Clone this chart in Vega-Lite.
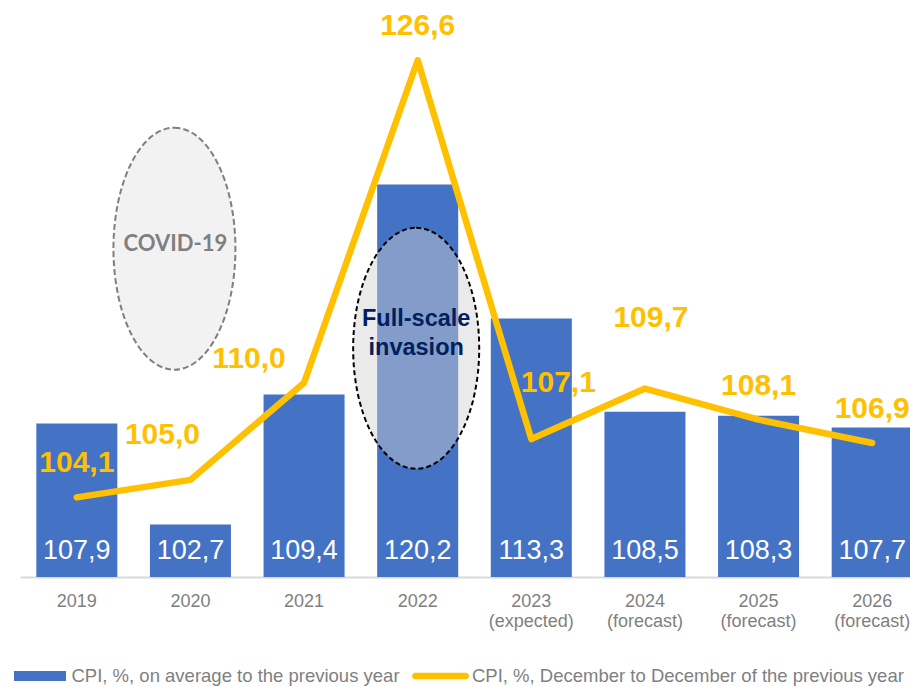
{
  "$schema": "https://vega.github.io/schema/vega-lite/v6.json",
  "width": 890,
  "height": 577,
  "autosize": {"type": "none"},
  "padding": {"left": 20, "top": 0, "right": 0, "bottom": 110},
  "background": "white",
  "config": {
    "view": {"stroke": null},
    "font": "Liberation Sans",
    "locale": {"number": {"decimal": ",", "thousands": " ", "grouping": [3], "currency": ["", ""]}}
  },
  "data": {
    "values": [
      {"year": "2019", "avg": 107.9, "dec": 104.1},
      {"year": "2020", "avg": 102.7, "dec": 105.0},
      {"year": "2021", "avg": 109.4, "dec": 110.0},
      {"year": "2022", "avg": 120.2, "dec": 126.6},
      {"year": "2023 (expected)", "avg": 113.3, "dec": 107.1},
      {"year": "2024 (forecast)", "avg": 108.5, "dec": 109.7},
      {"year": "2025 (forecast)", "avg": 108.3, "dec": 108.1},
      {"year": "2026 (forecast)", "avg": 107.7, "dec": 106.9}
    ]
  },
  "layer": [
    {
      "mark": {"type": "bar"},
      "encoding": {
        "x": {
          "field": "year", "type": "nominal", "sort": null,
          "scale": {
            "domain": ["2019", "2020", "2021", "2022", "2023 (expected)", "2024 (forecast)", "2025 (forecast)", "2026 (forecast)"],
            "range": [0, 909], "paddingInner": 0.287, "paddingOuter": 0.1435
          },
          "axis": {
            "title": null, "labelExpr": "split(datum.label, ' ')", "labelFontSize": 18,
            "labelColor": "#7F7F7F", "labelFont": "Liberation Sans", "labelBaseline": "alphabetic",
            "labelPadding": 29, "labelLineHeight": 20, "ticks": false, "tickSize": 0,
            "domainColor": "#D9D9D9", "domainWidth": 2, "labelAngle": 0, "grid": false
          }
        },
        "y": {
          "field": "avg", "type": "quantitative",
          "scale": {"domain": [100, 129.7], "nice": false, "zero": false},
          "axis": null
        },
        "y2": {"datum": 100},
        "color": {
          "datum": "CPI, %, on average to the previous year",
          "scale": {
            "domain": ["CPI, %, on average to the previous year", "CPI, %, December to December of the previous year"],
            "range": ["#4472C4", "#FFC000"]
          },
          "legend": {
            "orient": "none", "legendX": -8.5, "legendY": 647.5, "direction": "horizontal",
            "title": null, "labelFontSize": 18.5, "labelColor": "#7F7F7F", "labelFont": "Liberation Sans",
            "symbolSize": 3249, "labelOffset": 3, "columnPadding": 10.5, "padding": 0, "labelLimit": 600,
            "encode": {
              "symbols": {
                "update": {
                  "shape": {"signal": "datum.value == 'CPI, %, on average to the previous year' ? 'M-0.912,-0.175H0.912V0.175H-0.912Z' : 'M-0.886,-0.114H0.886A0.114,0.114 0 0 1 0.886,0.114H-0.886A0.114,0.114 0 0 1 -0.886,-0.114Z'"},
                  "fill": {"signal": "datum.value == 'CPI, %, on average to the previous year' ? '#4472C4' : '#FFC000'"},
                  "stroke": {"value": "transparent"},
                  "strokeWidth": {"value": 0},
                  "opacity": {"value": 1},
                  "fillOpacity": {"value": 1}
                }
              }
            }
          }
        }
      }
    },
    {
      "data": {"values": [{"note": "COVID-19"}]},
      "mark": {
        "type": "point", "shape": "M0,-1A0.504,1 0 1,1 0,1A0.504,1 0 1,1 0,-1Z", "size": 58564,
        "filled": true, "fill": "#F2F2F2", "stroke": "#7F7F7F", "strokeWidth": 2,
        "strokeDash": [6, 3], "opacity": 1, "fillOpacity": 1, "xOffset": -16
      },
      "encoding": {
        "x": {"datum": "2020", "type": "nominal"},
        "y": {"datum": 116.9, "type": "quantitative"}
      }
    },
    {
      "data": {"values": [{"note": "COVID-19"}]},
      "mark": {
        "type": "text", "font": "Lato", "fontWeight": "bold", "fontSize": 22,
        "color": "#7F7F7F", "baseline": "middle", "align": "center", "xOffset": -15
      },
      "encoding": {
        "x": {"datum": "2020", "type": "nominal"},
        "y": {"datum": 117.15, "type": "quantitative"},
        "text": {"field": "note"}
      }
    },
    {
      "data": {"values": [{"note": "Full-scale invasion"}]},
      "mark": {
        "type": "point", "shape": "M0,-1A0.523,1 0 1,1 0,1A0.523,1 0 1,1 0,-1Z", "size": 58081,
        "filled": true, "fill": "#D0D0D0", "fillOpacity": 0.45, "stroke": "#000000", "strokeWidth": 2,
        "strokeOpacity": 1, "strokeDash": [5, 3], "opacity": 1, "xOffset": -1.5
      },
      "encoding": {
        "x": {"datum": "2022", "type": "nominal"},
        "y": {"datum": 111.77, "type": "quantitative"}
      }
    },
    {
      "data": {"values": [{"note": "Full-scale\ninvasion"}]},
      "mark": {
        "type": "text", "font": "Liberation Sans", "fontWeight": "bold", "fontSize": 23.5,
        "color": "#002060", "baseline": "alphabetic", "align": "center", "lineBreak": "\n",
        "lineHeight": 29, "xOffset": -1.5
      },
      "encoding": {
        "x": {"datum": "2022", "type": "nominal"},
        "y": {"datum": 112.93, "type": "quantitative"},
        "text": {"field": "note"}
      }
    },
    {
      "mark": {"type": "line", "strokeWidth": 6.5, "strokeCap": "round", "strokeJoin": "round"},
      "encoding": {
        "x": {"field": "year", "type": "nominal", "sort": null},
        "y": {"field": "dec", "type": "quantitative"},
        "color": {"datum": "CPI, %, December to December of the previous year"}
      }
    },
    {
      "mark": {"type": "text", "color": "white", "fontSize": 27, "baseline": "alphabetic", "align": "center", "dy": -18},
      "encoding": {
        "x": {"field": "year", "type": "nominal", "sort": null},
        "y": {"datum": 100, "type": "quantitative"},
        "text": {"field": "avg", "type": "quantitative", "format": ".1f"}
      }
    },
    {
      "transform": [{"filter": "datum.year == '2019' || datum.year == '2022' || datum.year == '2025 (forecast)' || datum.year == '2026 (forecast)'"}],
      "mark": {"type": "text", "color": "#FFC000", "fontSize": 30, "fontWeight": "bold", "baseline": "alphabetic", "align": "center", "dy": -25},
      "encoding": {
        "x": {"field": "year", "type": "nominal", "sort": null},
        "y": {"field": "dec", "type": "quantitative"},
        "text": {"field": "dec", "type": "quantitative", "format": ".1f"}
      }
    },
    {
      "transform": [{"filter": "datum.year == '2020'"}],
      "mark": {"type": "text", "color": "#FFC000", "fontSize": 30, "fontWeight": "bold", "baseline": "alphabetic", "align": "center", "dx": -28, "dy": -36},
      "encoding": {
        "x": {"field": "year", "type": "nominal", "sort": null},
        "y": {"field": "dec", "type": "quantitative"},
        "text": {"field": "dec", "type": "quantitative", "format": ".1f"}
      }
    },
    {
      "transform": [{"filter": "datum.year == '2021'"}],
      "mark": {"type": "text", "color": "#FFC000", "fontSize": 30, "fontWeight": "bold", "baseline": "alphabetic", "align": "center", "dx": -55, "dy": -15},
      "encoding": {
        "x": {"field": "year", "type": "nominal", "sort": null},
        "y": {"field": "dec", "type": "quantitative"},
        "text": {"field": "dec", "type": "quantitative", "format": ".1f"}
      }
    },
    {
      "transform": [{"filter": "datum.year == '2023 (expected)'"}],
      "mark": {"type": "text", "color": "#FFC000", "fontSize": 30, "fontWeight": "bold", "baseline": "alphabetic", "align": "center", "dx": 27, "dy": -47},
      "encoding": {
        "x": {"field": "year", "type": "nominal", "sort": null},
        "y": {"field": "dec", "type": "quantitative"},
        "text": {"field": "dec", "type": "quantitative", "format": ".1f"}
      }
    },
    {
      "transform": [{"filter": "datum.year == '2024 (forecast)'"}],
      "mark": {"type": "text", "color": "#FFC000", "fontSize": 30, "fontWeight": "bold", "baseline": "alphabetic", "align": "center", "dx": 6, "dy": -62},
      "encoding": {
        "x": {"field": "year", "type": "nominal", "sort": null},
        "y": {"field": "dec", "type": "quantitative"},
        "text": {"field": "dec", "type": "quantitative", "format": ".1f"}
      }
    }
  ]
}
